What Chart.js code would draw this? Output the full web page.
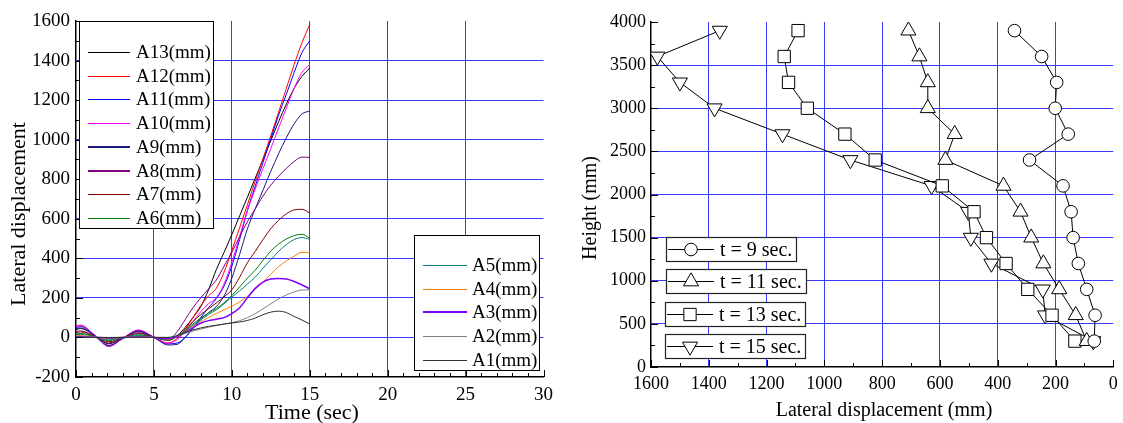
<!DOCTYPE html>
<html lang="en">
<head>
    <meta charset="UTF-8">
    <title>Lateral displacement</title>
    <script src="https://cdn.jsdelivr.net/npm/chart.js"></script>
    <style>
        html, body { margin: 0; padding: 0; background: #fff; }
        body { width: 1123px; height: 423px; position: relative; overflow: hidden; }
        .panel { position: absolute; top: 0; height: 423px; }
        #left-panel { left: 0; width: 560px; }
        #right-panel { left: 560px; width: 563px; }
    </style>
</head>
<body>
    <div class="panel" id="left-panel"><canvas id="time-chart"></canvas></div>
    <div class="panel" id="right-panel"><canvas id="profile-chart"></canvas></div>

    <script>
        const serif = '"Liberation Serif", "Times New Roman", serif';
        Chart.defaults.font.family = serif;
        Chart.defaults.color = '#000';
        Chart.defaults.animation = false;

        // ---- time history of the gauges ----
        const times = [0, 0.3, 1.2, 2.1, 3.0, 4.0, 5.0, 5.9, 6.5, 7, 7.5, 8, 8.5, 9,
                       9.5, 10, 10.5, 11, 11.5, 12, 12.5, 13, 13.5, 14, 14.5, 15];

        const a1  = [1, 1, 0, -1, 0, 1, 0, 0, 10, 25, 38, 48, 56, 62, 68, 73, 78, 86, 98, 115, 128, 133, 126, 106, 88, 68];
        const a2  = [2, 2, 1, 0, 1, 2, 1, 0, 8, 20, 32, 42, 52, 60, 67, 75, 85, 100, 120, 145, 170, 195, 215, 230, 240, 240];
        const a3  = [4, 5, 1, -3, 0, 3, 0, -5, 5, 25, 50, 72, 85, 92, 100, 120, 150, 200, 248, 280, 295, 298, 295, 283, 265, 246];
        const a4  = [8, 9, 2, -6, 0, 5, 0, -8, 5, 30, 55, 80, 100, 121, 140, 158, 180, 208, 244, 280, 320, 358, 387, 411, 430, 428];
        const a5  = [14, 15, 3, -12, -1, 10, 0, -10, 5, 32, 62, 90, 115, 139, 170, 205, 235, 270, 305, 350, 393, 435, 470, 495, 505, 496];
        const a6  = [18, 20, 4, -16, -2, 14, 0, -12, 5, 35, 68, 98, 123, 146, 175, 212, 255, 300, 340, 390, 436, 472, 498, 515, 522, 502];
        const a7  = [25, 28, 5, -22, -2, 20, 0, -15, 5, 40, 80, 115, 145, 174, 205, 241, 305, 378, 435, 495, 550, 592, 625, 645, 648, 629];
        const a8  = [30, 33, 6, -28, -3, 24, 2, -10, 30, 90, 150, 200, 245, 290, 360, 430, 510, 585, 650, 715, 770, 815, 855, 890, 912, 910];
        const a9  = [45, 48, 8, -40, -5, 30, 0, -38, -35, 0, 45, 90, 125, 156, 210, 300, 420, 549, 650, 745, 840, 929, 1010, 1080, 1130, 1145];
        const a10 = [55, 60, 12, -45, -5, 38, 2, -30, -10, 30, 80, 130, 170, 201, 270, 380, 510, 642, 750, 855, 955, 1059, 1160, 1260, 1340, 1380];
        const a11 = [50, 55, 10, -45, -5, 34, 0, -32, -28, 0, 45, 100, 150, 196, 260, 360, 495, 642, 765, 885, 1005, 1124, 1230, 1340, 1440, 1500];
        const a12 = [58, 62, 12, -42, -4, 36, 0, -28, -5, 40, 100, 160, 210, 248, 330, 440, 555, 671, 790, 905, 1020, 1139, 1260, 1380, 1490, 1582];
        const a13 = [40, 45, 10, -32, -2, 33, 2, -12, 10, 50, 100, 155, 240, 342, 430, 520, 615, 709, 805, 900, 995, 1091, 1180, 1260, 1320, 1362];

        const gaugeNames = ['A1(mm)', 'A2(mm)', 'A3(mm)', 'A4(mm)', 'A5(mm)', 'A6(mm)', 'A7(mm)',
                            'A8(mm)', 'A9(mm)', 'A10(mm)', 'A11(mm)', 'A12(mm)', 'A13(mm)'];
        const gaugeValues = [a1, a2, a3, a4, a5, a6, a7, a8, a9, a10, a11, a12, a13];
        const gaugeColors = ['#303030', '#808080', '#8000ff', '#ff8000', '#008080', '#008000', '#800000',
                             '#800080', '#1a1a80', '#ff00ff', '#0000ff', '#ff0000', '#000000'];
        const gaugeWidths = [1, 1, 1.5, 1, 1, 1, 1, 1, 1, 1, 1, 1, 1];
        const legendWidths = [1, 1, 2, 1, 1, 1, 1, 2, 2, 1, 1, 1, 1];

        const timeTicks = [0, 5, 10, 15, 20, 25, 30];
        const dispTicks = [-200, 0, 200, 400, 600, 800, 1000, 1200, 1400, 1600];

        // ---- displacement profiles over height ----
        const heights = [300, 600, 900, 1200, 1500, 1800, 2100, 2400, 2700, 3000, 3300, 3600, 3900];
        const profile9  = [66, 63, 92, 121, 139, 146, 174, 290, 156, 201, 196, 248, 342];
        const profile11 = [92, 130, 187, 242, 284, 321, 380, 581, 549, 642, 642, 671, 709];
        const profile13 = [133, 212, 296, 371, 439, 482, 592, 824, 929, 1059, 1124, 1139, 1091];
        const profile15 = [69, 236, 244, 422, 493, 502, 629, 910, 1145, 1380, 1500, 1578, 1362];
        const profileNames = ['t = 9 sec.', 't = 11 sec.', 't = 13 sec.', 't = 15 sec.'];
        const profileMarkers = ['circle', 'triangle', 'rect', 'invTriangle'];

        const profileXTicks = [0, 200, 400, 600, 800, 1000, 1200, 1400, 1600];
        const heightTicks = [0, 500, 1000, 1500, 2000, 2500, 3000, 3500, 4000];

        const gridBlue = '#3a3aff';

        function edgeless(ctx) {
            const s = ctx.scale;
            if (ctx.tick && (ctx.tick.value === s.min || ctx.tick.value === s.max)) return 'rgba(0,0,0,0)';
            return gridBlue;
        }

        const plainLabel = v => String(v);

        // small inward tick marks along the axes
        function drawInwardTicks(chart, id, majors, minorStep, majorLen, minorLen) {
            const scale = chart.scales[id];
            const area = chart.chartArea;
            const ctx = chart.ctx;
            const lo = Math.min(scale.min, scale.max), hi = Math.max(scale.min, scale.max);
            ctx.save();
            ctx.strokeStyle = '#000';
            ctx.lineWidth = 1;
            ctx.beginPath();
            const n = Math.round((hi - lo) / minorStep);
            for (let i = 0; i <= n; i++) {
                const v = lo + i * minorStep;
                const len = majors.includes(v) ? majorLen : minorLen;
                const p = Math.round(scale.getPixelForValue(v)) + 0.5;
                if (scale.isHorizontal()) {
                    ctx.moveTo(p, area.bottom);
                    ctx.lineTo(p, area.bottom - len);
                } else {
                    ctx.moveTo(area.left, p);
                    ctx.lineTo(area.left + len, p);
                }
            }
            ctx.stroke();
            ctx.restore();
        }

        function drawText(ctx, text, x, y, size, rotate) {
            ctx.save();
            ctx.translate(x, y);
            if (rotate) ctx.rotate(-Math.PI / 2);
            ctx.font = size + 'px ' + serif;
            ctx.fillStyle = '#000';
            ctx.textAlign = 'center';
            ctx.textBaseline = 'middle';
            ctx.fillText(text, 0, 0);
            ctx.restore();
        }

        function drawMarker(ctx, style, x, y, r) {
            ctx.beginPath();
            if (style === 'circle') {
                ctx.arc(x, y, r, 0, Math.PI * 2);
            } else if (style === 'rect') {
                const s = r * Math.SQRT1_2;
                ctx.rect(x - s, y - s, 2 * s, 2 * s);
            } else {
                const flip = style === 'invTriangle' ? Math.PI : 0;
                for (let k = 0; k < 3; k++) {
                    const a = flip + k * 2 * Math.PI / 3;
                    const px = x + Math.sin(a) * r, py = y - Math.cos(a) * r;
                    if (k === 0) ctx.moveTo(px, py); else ctx.lineTo(px, py);
                }
                ctx.closePath();
            }
            ctx.fillStyle = '#fff';
            ctx.fill();
            ctx.strokeStyle = '#000';
            ctx.lineWidth = 1;
            ctx.stroke();
        }

        function drawGaugeLegend(ctx, box, order, firstRow, lineX0, lineX1, textX) {
            ctx.save();
            ctx.fillStyle = '#fff';
            ctx.fillRect(box.x, box.y, box.w, box.h);
            ctx.strokeStyle = '#000';
            ctx.lineWidth = 1;
            ctx.strokeRect(box.x + 0.5, box.y + 0.5, box.w, box.h);
            ctx.font = '19px ' + serif;
            ctx.textBaseline = 'middle';
            ctx.textAlign = 'left';
            order.forEach((idx, row) => {
                const y = Math.round(firstRow + row * 23.7) + (legendWidths[idx] > 1 ? 0 : 0.5);
                ctx.strokeStyle = gaugeColors[idx];
                ctx.lineWidth = legendWidths[idx];
                ctx.beginPath();
                ctx.moveTo(lineX0, y);
                ctx.lineTo(lineX1, y);
                ctx.stroke();
                ctx.fillStyle = '#000';
                ctx.fillText(gaugeNames[idx], textX, y + 1);
            });
            ctx.restore();
        }

        const timeDecor = {
            id: 'timeDecor',
            afterDatasetsDraw(chart) {
                drawInwardTicks(chart, 'x', timeTicks, 1, 7, 4);
                drawInwardTicks(chart, 'y', dispTicks, 100, 7, 4);
            },
            afterDraw(chart) {
                const ctx = chart.ctx;
                drawGaugeLegend(ctx, {x: 79, y: 21, w: 134, h: 207}, [12, 11, 10, 9, 8, 7, 6, 5], 52, 88, 130, 136);
                drawGaugeLegend(ctx, {x: 414, y: 235, w: 125, h: 135}, [4, 3, 2, 1, 0], 265, 423, 467, 472);
                drawText(ctx, 'Time (sec)', 312, 413, 22, false);
                drawText(ctx, 'Lateral displacement', 19, 214, 22, true);
            }
        };

        const profileDecor = {
            id: 'profileDecor',
            afterDatasetsDraw(chart) {
                drawInwardTicks(chart, 'x', profileXTicks, 100, 7, 4);
                drawInwardTicks(chart, 'y', heightTicks, 250, 7, 4);
            },
            afterDraw(chart) {
                const ctx = chart.ctx;
                const boxes = [{x: 106, y: 237}, {x: 106, y: 269}, {x: 105, y: 302}, {x: 105, y: 334}];
                ctx.save();
                ctx.font = '20px ' + serif;
                boxes.forEach((b, i) => {
                    const w = Math.round(54 + ctx.measureText(profileNames[i]).width + 4);
                    ctx.fillStyle = '#fff';
                    ctx.fillRect(b.x, b.y, w, 24);
                    ctx.strokeStyle = '#222';
                    ctx.lineWidth = 1.2;
                    ctx.strokeRect(b.x + 0.5, b.y + 0.5, w, 24);
                    const cy = b.y + 12.5;
                    ctx.strokeStyle = '#000';
                    ctx.lineWidth = 1;
                    ctx.beginPath();
                    ctx.moveTo(b.x + 2, cy);
                    ctx.lineTo(b.x + 48, cy);
                    ctx.stroke();
                    drawMarker(ctx, profileMarkers[i], b.x + 25, cy, profileMarkers[i] === 'circle' ? 6.3 : 8.7);
                    ctx.fillStyle = '#000';
                    ctx.textAlign = 'left';
                    ctx.textBaseline = 'middle';
                    ctx.fillText(profileNames[i], b.x + 54, cy + 1);
                });
                ctx.restore();
                drawText(ctx, 'Lateral displacement (mm)', 324, 411, 20, false);
                drawText(ctx, 'Height (mm)', 31, 208, 20, true);
            }
        };

        // Left: lateral displacement against time
        new Chart(document.getElementById('time-chart'), {
            type: 'line',
            data: {
                datasets: gaugeValues.map((vals, i) => ({
                    label: gaugeNames[i],
                    data: times.map((t, k) => ({x: t, y: vals[k]})),
                    borderColor: gaugeColors[i],
                    borderWidth: gaugeWidths[i],
                    pointRadius: 0,
                    fill: false,
                    cubicInterpolationMode: 'monotone'
                }))
            },
            options: {
                responsive: true,
                maintainAspectRatio: false,
                layout: { padding: { left: 0, right: 12, top: 21, bottom: 0 } },
                plugins: { legend: { display: false }, tooltip: { enabled: false } },
                scales: {
                    x: {
                        type: 'linear', min: 0, max: 30,
                        afterBuildTicks: s => { s.ticks = timeTicks.map(v => ({value: v})); },
                        afterFit: s => { s.height = 46; },
                        grid: { color: edgeless, lineWidth: 1, drawTicks: false },
                        border: { display: true, color: '#000', width: 1.5 },
                        ticks: { padding: 7, maxRotation: 0, autoSkip: false, callback: plainLabel,
                                 font: { family: serif, size: 19 } }
                    },
                    y: {
                        type: 'linear', min: -200, max: 1600,
                        afterBuildTicks: s => { s.ticks = dispTicks.map(v => ({value: v})); },
                        afterFit: s => { s.width = 76; },
                        grid: { color: edgeless, lineWidth: 1, drawTicks: false },
                        border: { display: true, color: '#000', width: 1.5 },
                        ticks: { padding: 6, callback: plainLabel, font: { family: serif, size: 19 } }
                    }
                }
            },
            plugins: [timeDecor]
        });

        // Right: displacement profiles over the height
        const profiles = [profile9, profile11, profile13, profile15];
        new Chart(document.getElementById('profile-chart'), {
            type: 'line',
            data: {
                datasets: profiles.map((vals, i) => ({
                    label: profileNames[i],
                    data: heights.map((h, k) => ({x: vals[k], y: h})),
                    borderColor: '#000',
                    borderWidth: 1,
                    tension: 0,
                    fill: false,
                    pointStyle: profileMarkers[i] === 'invTriangle' ? 'triangle' : profileMarkers[i],
                    rotation: profileMarkers[i] === 'invTriangle' ? 180 : 0,
                    pointRadius: profileMarkers[i] === 'circle' ? 6.3 : 8.7,
                    pointBackgroundColor: '#fff',
                    pointBorderColor: '#000',
                    pointBorderWidth: 1
                }))
            },
            options: {
                responsive: true,
                maintainAspectRatio: false,
                layout: { padding: { left: 0, right: 7, top: 22, bottom: 0 } },
                plugins: { legend: { display: false }, tooltip: { enabled: false } },
                scales: {
                    x: {
                        type: 'linear', min: 0, max: 1600, reverse: true,
                        afterBuildTicks: s => { s.ticks = profileXTicks.map(v => ({value: v})); },
                        afterFit: s => { s.height = 56; },
                        grid: { color: edgeless, lineWidth: 1, drawTicks: false },
                        border: { display: true, color: '#000', width: 1.5 },
                        ticks: { padding: 6, maxRotation: 0, autoSkip: false, callback: plainLabel,
                                 font: { family: serif, size: 18 } }
                    },
                    y: {
                        type: 'linear', min: 0, max: 4000,
                        afterBuildTicks: s => { s.ticks = heightTicks.map(v => ({value: v})); },
                        afterFit: s => { s.width = 91; },
                        grid: { color: edgeless, lineWidth: 1, drawTicks: false },
                        border: { display: true, color: '#000', width: 1.5 },
                        ticks: { padding: 5, callback: plainLabel, font: { family: serif, size: 18 } }
                    }
                }
            },
            plugins: [profileDecor]
        });
    </script>
</body>
</html>
